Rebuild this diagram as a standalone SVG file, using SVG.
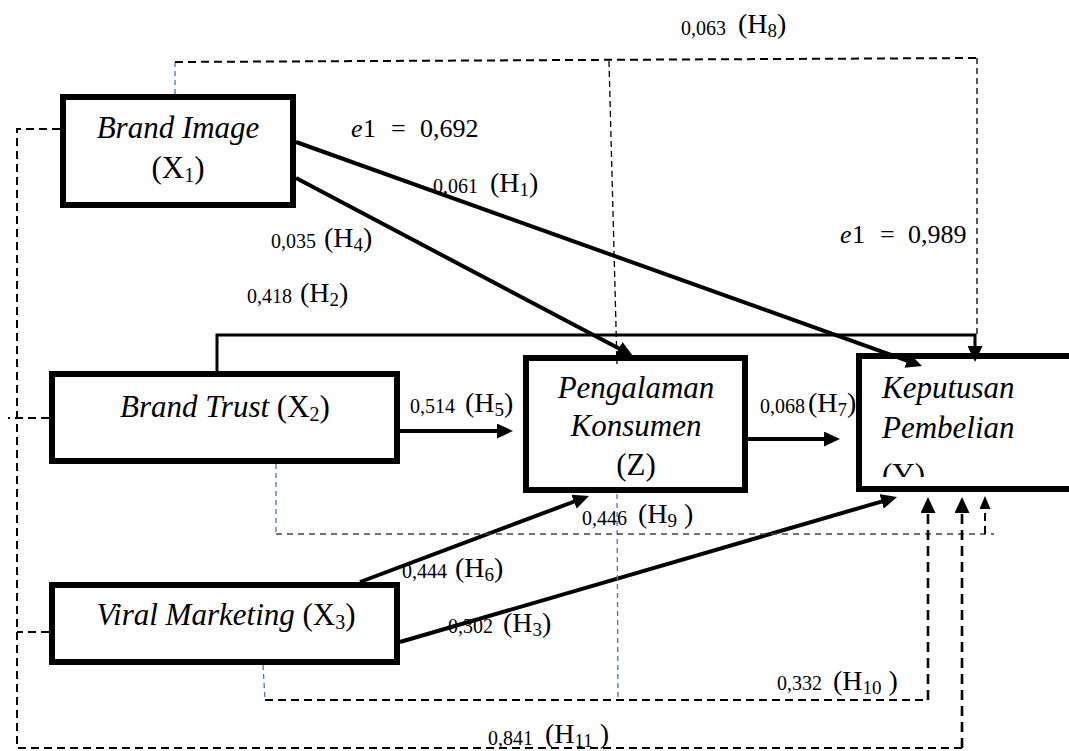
<svg xmlns="http://www.w3.org/2000/svg" width="1069" height="751" viewBox="0 0 1069 751">
<style>
text { font-family: "Liberation Serif", "Times New Roman", serif; fill: #000; }
.nt { font-size: 31px; }
.it { font-style: italic; }
.ns { font-size: 20px; }
.num { font-size: 20px; }
.hp { font-size: 28px; }
.hs { font-size: 19px; }
.eq { font-size: 26px; }
.box { fill: #fff; stroke: #000; stroke-width: 6; }
.solid { fill: none; stroke: #000; stroke-width: 4; }
.solid3 { fill: none; stroke: #000; stroke-width: 3; }
.dk { fill: none; stroke: #000; stroke-width: 2; stroke-dasharray: 8 5; }
.dkb { fill: none; stroke: #000; stroke-width: 2.6; stroke-dasharray: 10 6; }
.thin { fill: none; stroke: #000; stroke-width: 1.3; stroke-dasharray: 6 4; }
.gray { fill: none; stroke: #444; stroke-width: 1.5; stroke-dasharray: 6 5; }
.blue { fill: none; stroke: #4472C4; stroke-width: 1.3; stroke-dasharray: 5 4; }
</style>
<defs>
<marker id="ah" markerUnits="userSpaceOnUse" markerWidth="17" markerHeight="15" refX="6" refY="7.5" orient="auto">
<path d="M0,0 L16,7.5 L0,15 z" fill="#000"/>
</marker>
<marker id="ahs" markerUnits="userSpaceOnUse" markerWidth="13" markerHeight="11" refX="4" refY="5.5" orient="auto">
<path d="M0,0 L13,5.5 L0,11 z" fill="#000"/>
</marker>
<clipPath id="clipY"><rect x="856" y="353" width="213" height="124"/></clipPath>
</defs>

<g id="labels">
<text x="351" y="137" class="eq"><tspan class="it">e</tspan><tspan x="363">1</tspan><tspan x="391">=</tspan><tspan x="420">0,692</tspan></text>
<text x="840" y="243" class="eq"><tspan class="it">e</tspan><tspan x="852">1</tspan><tspan x="880">=</tspan><tspan x="908">0,989</tspan></text>
<text y="35"><tspan x="681" class="num">0,063</tspan><tspan x="738" y="33" class="hp">(H</tspan><tspan class="hs" dy="4">8</tspan><tspan class="hp" dy="-4">)</tspan></text>
<text y="193"><tspan x="433" class="num">0,061</tspan><tspan x="490" y="192" class="hp">(H</tspan><tspan class="hs" dy="4">1</tspan><tspan class="hp" dy="-4">)</tspan></text>
<text y="248"><tspan x="271" class="num">0,035</tspan><tspan x="324" y="247" class="hp">(H</tspan><tspan class="hs" dy="4">4</tspan><tspan class="hp" dy="-4">)</tspan></text>
<text y="303"><tspan x="247" class="num">0,418</tspan><tspan x="300" y="302" class="hp">(H</tspan><tspan class="hs" dy="4">2</tspan><tspan class="hp" dy="-4">)</tspan></text>
<text y="413"><tspan x="410" class="num">0,514</tspan><tspan x="465" y="412" class="hp">(H</tspan><tspan class="hs" dy="4">5</tspan><tspan class="hp" dy="-4">)</tspan></text>
<text y="413"><tspan x="760" class="num">0,068</tspan><tspan x="808" y="412" class="hp">(H</tspan><tspan class="hs" dy="4">7</tspan><tspan class="hp" dy="-4">)</tspan></text>
<text y="525"><tspan x="582" class="num">0,446</tspan><tspan x="638" y="523" class="hp">(H</tspan><tspan class="hs" dy="4">9</tspan><tspan class="hp" dy="-4"> )</tspan></text>
<text y="578"><tspan x="402" class="num">0,444</tspan><tspan x="455" y="577" class="hp">(H</tspan><tspan class="hs" dy="4">6</tspan><tspan class="hp" dy="-4">)</tspan></text>
<text y="633"><tspan x="448" class="num">0,302</tspan><tspan x="503" y="632" class="hp">(H</tspan><tspan class="hs" dy="4">3</tspan><tspan class="hp" dy="-4">)</tspan></text>
<text y="690"><tspan x="777" class="num">0,332</tspan><tspan x="833" y="690" class="hp">(H</tspan><tspan class="hs" dy="4">10</tspan><tspan class="hp" dy="-4"> )</tspan></text>
<text y="745"><tspan x="488" class="num">0,841</tspan><tspan x="545" y="743" class="hp">(H</tspan><tspan class="hs" dy="4">11</tspan><tspan class="hp" dy="-4"> )</tspan></text>
</g>

<g id="node-x1">
<rect class="box" x="63" y="97" width="230" height="108"/>
<text x="178" y="138" class="nt it" text-anchor="middle">Brand Image</text>
<text x="178" y="178" class="nt" text-anchor="middle">(X<tspan class="ns" dy="4">1</tspan><tspan dy="-4">)</tspan></text>
</g>
<g id="node-x2">
<rect class="box" x="52" y="374" width="345" height="87"/>
<text x="225" y="417" class="nt" text-anchor="middle"><tspan class="it">Brand Trust</tspan> (X<tspan class="ns" dy="4">2</tspan><tspan dy="-4">)</tspan></text>
</g>
<g id="node-x3">
<rect class="box" x="52" y="585" width="345" height="77"/>
<text x="226" y="625" class="nt" text-anchor="middle"><tspan class="it">Viral Marketing</tspan> (X<tspan class="ns" dy="4">3</tspan><tspan dy="-4">)</tspan></text>
</g>
<g id="node-z">
<rect class="box" x="526" y="358" width="219" height="132"/>
<text x="636" y="398" class="nt it" text-anchor="middle">Pengalaman</text>
<text x="636" y="436" class="nt it" text-anchor="middle">Konsumen</text>
<text x="636" y="475" class="nt" text-anchor="middle">(Z)</text>
</g>
<g id="node-y">
<rect class="box" x="859" y="356" width="240" height="133"/>
<text x="882" y="398" class="nt it">Keputusan</text>
<text x="882" y="438" class="nt it">Pembelian</text>
<text x="882" y="485" class="nt" clip-path="url(#clipY)">(Y)</text>
</g>

<g id="connectors">
<!-- H1 -->
<line class="solid" x1="296" y1="142" x2="912.6" y2="362.6" marker-end="url(#ah)"/>
<!-- H4 -->
<line class="solid" x1="296" y1="178" x2="624.2" y2="351.3" marker-end="url(#ah)"/>
<!-- H2 -->
<polyline class="solid3" points="217,371 217,335 975,335 975,352" marker-end="url(#ah)"/>
<!-- H5 -->
<line class="solid" x1="400" y1="431" x2="503" y2="431" marker-end="url(#ah)"/>
<!-- H7 -->
<line class="solid" x1="748" y1="439" x2="830" y2="439" marker-end="url(#ah)"/>
<!-- H6 -->
<line class="solid" x1="360" y1="582" x2="579.6" y2="499.5" marker-end="url(#ah)"/>
<!-- H3 -->
<line class="solid" x1="400" y1="642" x2="887.4" y2="499.8" marker-end="url(#ah)"/>
<!-- H8 -->
<line class="blue" x1="175" y1="94" x2="175" y2="62"/>
<polyline class="dk" points="175,62 977,58"/>
<polyline class="thin" points="977,58 977,335"/>
<polyline class="thin" points="609,61 617,364"/>
<line class="blue" x1="617" y1="494" x2="618" y2="700"/>
<!-- H9 -->
<line class="blue" x1="276" y1="464" x2="276" y2="534"/>
<polyline class="gray" points="276,534 994,534"/>
<line class="dk" x1="985" y1="534" x2="985" y2="505" marker-end="url(#ahs)"/>
<!-- H10 -->
<line class="blue" x1="263" y1="665" x2="265" y2="700"/>
<polyline class="dk" points="265,700 928,700"/>
<line class="dkb" x1="928" y1="700" x2="928" y2="507" marker-end="url(#ah)"/>
<!-- H11 -->
<polyline class="dk" points="60,129 17,129 17,748 962,748"/>
<line class="dkb" x1="962" y1="748" x2="962" y2="507" marker-end="url(#ah)"/>
<line class="dk" x1="49" y1="418" x2="8" y2="418"/>
<line class="dk" x1="49" y1="632" x2="17" y2="632"/>
</g>
</svg>
